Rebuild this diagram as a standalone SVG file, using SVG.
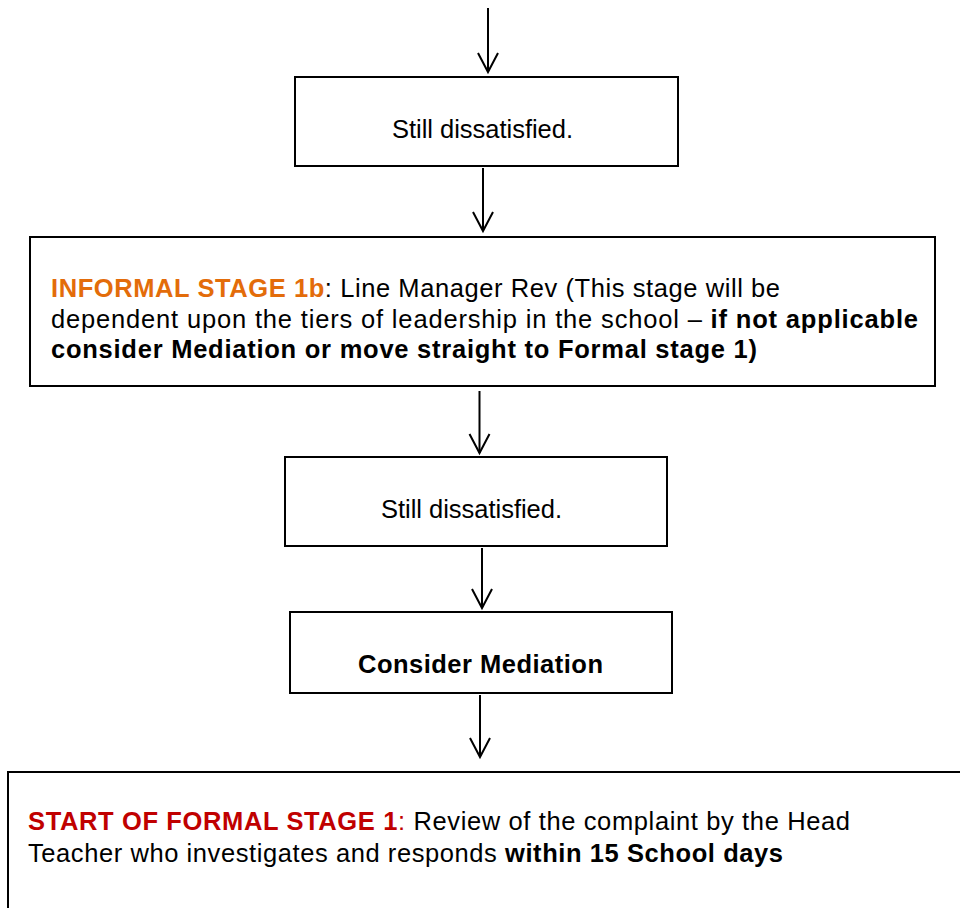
<svg xmlns="http://www.w3.org/2000/svg" width="960" height="908" viewBox="0 0 960 908">
<style>
.box{fill:#fff;stroke:#000;stroke-width:2}
.con{stroke:#000;stroke-width:2;fill:none}
text{font-family:"Liberation Sans",Arial,sans-serif;font-size:25.5px;fill:#000}
.b{font-weight:bold}
.or{fill:#E36C0A;font-weight:bold}
.rd{fill:#C00000;font-weight:bold}
.rdn{fill:#C00000}
</style>
<defs>
<marker id="ah" markerUnits="userSpaceOnUse" orient="auto" markerWidth="24" markerHeight="24" refX="0" refY="0" viewBox="-21 -12 24 24" overflow="visible">
<path d="M-19,-10 L0,0 L-19,10" fill="none" stroke="#000" stroke-width="2"/>
</marker>
</defs>
<rect width="960" height="908" fill="#fff"/>
<g id="connectors">
<line class="con" x1="488" y1="8" x2="488" y2="72" marker-end="url(#ah)"/>
<line class="con" x1="483" y1="168" x2="483" y2="231" marker-end="url(#ah)"/>
<line class="con" x1="479.5" y1="391" x2="479.5" y2="453" marker-end="url(#ah)"/>
<line class="con" x1="482" y1="548" x2="482" y2="608" marker-end="url(#ah)"/>
<line class="con" x1="480" y1="695" x2="480" y2="757" marker-end="url(#ah)"/>
</g>
<g id="node1">
<rect class="box" x="295" y="77" width="383" height="89"/>
<text x="392" y="138" textLength="181" lengthAdjust="spacing">Still dissatisfied.</text>
</g>
<g id="node2">
<rect class="box" x="30" y="237" width="905" height="149"/>
<text x="51" y="297" textLength="729" lengthAdjust="spacing"><tspan class="or">INFORMAL STAGE 1b</tspan>: Line Manager Rev (This stage will be</text>
<text x="51" y="327.5" textLength="867" lengthAdjust="spacing">dependent upon the tiers of leadership in the school – <tspan class="b">if not applicable</tspan></text>
<text class="b" x="51" y="358" textLength="706" lengthAdjust="spacing">consider Mediation or move straight to Formal stage 1)</text>
</g>
<g id="node3">
<rect class="box" x="285" y="457" width="382" height="89"/>
<text x="381" y="518" textLength="181" lengthAdjust="spacing">Still dissatisfied.</text>
</g>
<g id="node4">
<rect class="box" x="290" y="612" width="382" height="81"/>
<text class="b" x="358" y="673" textLength="245" lengthAdjust="spacing">Consider Mediation</text>
</g>
<g id="node5">
<rect class="box" x="8" y="772" width="1000" height="200"/>
<text x="28" y="830" textLength="822" lengthAdjust="spacing"><tspan class="rd">START OF FORMAL STAGE 1</tspan><tspan class="rdn">:</tspan> Review of the complaint by the Head</text>
<text x="28" y="862" textLength="755" lengthAdjust="spacing">Teacher who investigates and responds <tspan class="b">within 15 School days</tspan></text>
</g>
</svg>
